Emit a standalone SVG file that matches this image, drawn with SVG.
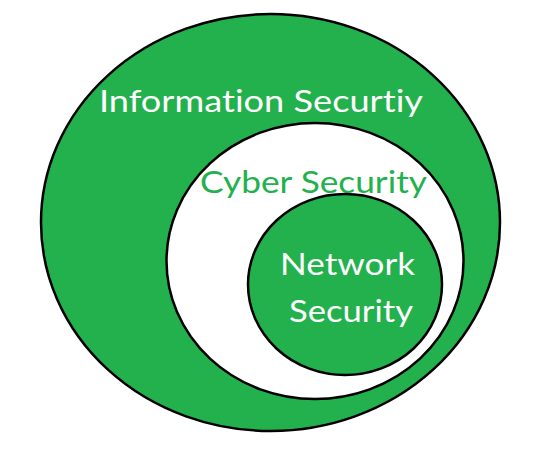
<svg xmlns="http://www.w3.org/2000/svg" width="540" height="449" viewBox="0 0 540 449">
<style>
.ring{stroke:#000;stroke-width:2.5}
.green{fill:#22B14C}
.white{fill:#fff}
text{font-family:Lato,"Noto Sans","Liberation Sans",sans-serif;font-size:31px;font-variant-ligatures:none}
.lw{fill:#fff}
.lg{fill:#22B14C}
</style>
<rect width="540" height="449" fill="#fff"/>
<g id="information-security">
<ellipse class="ring green" cx="270.5" cy="222.5" rx="229.5" ry="208.5"/>
<text class="lw" x="99" y="112" textLength="324" lengthAdjust="spacingAndGlyphs">Information Securtiy</text>
</g>
<g id="cyber-security">
<ellipse class="ring white" cx="315" cy="261" rx="148.5" ry="138"/>
<text class="lg" x="200" y="193" textLength="227" lengthAdjust="spacingAndGlyphs">Cyber Security</text>
</g>
<g id="network-security">
<ellipse class="ring green" cx="345" cy="284.5" rx="97" ry="90.5"/>
<text class="lw" x="280" y="275" textLength="135" lengthAdjust="spacingAndGlyphs">Network</text>
<text class="lw" x="289" y="322" textLength="124" lengthAdjust="spacingAndGlyphs">Security</text>
</g>
<g id="connectors"/>
</svg>
